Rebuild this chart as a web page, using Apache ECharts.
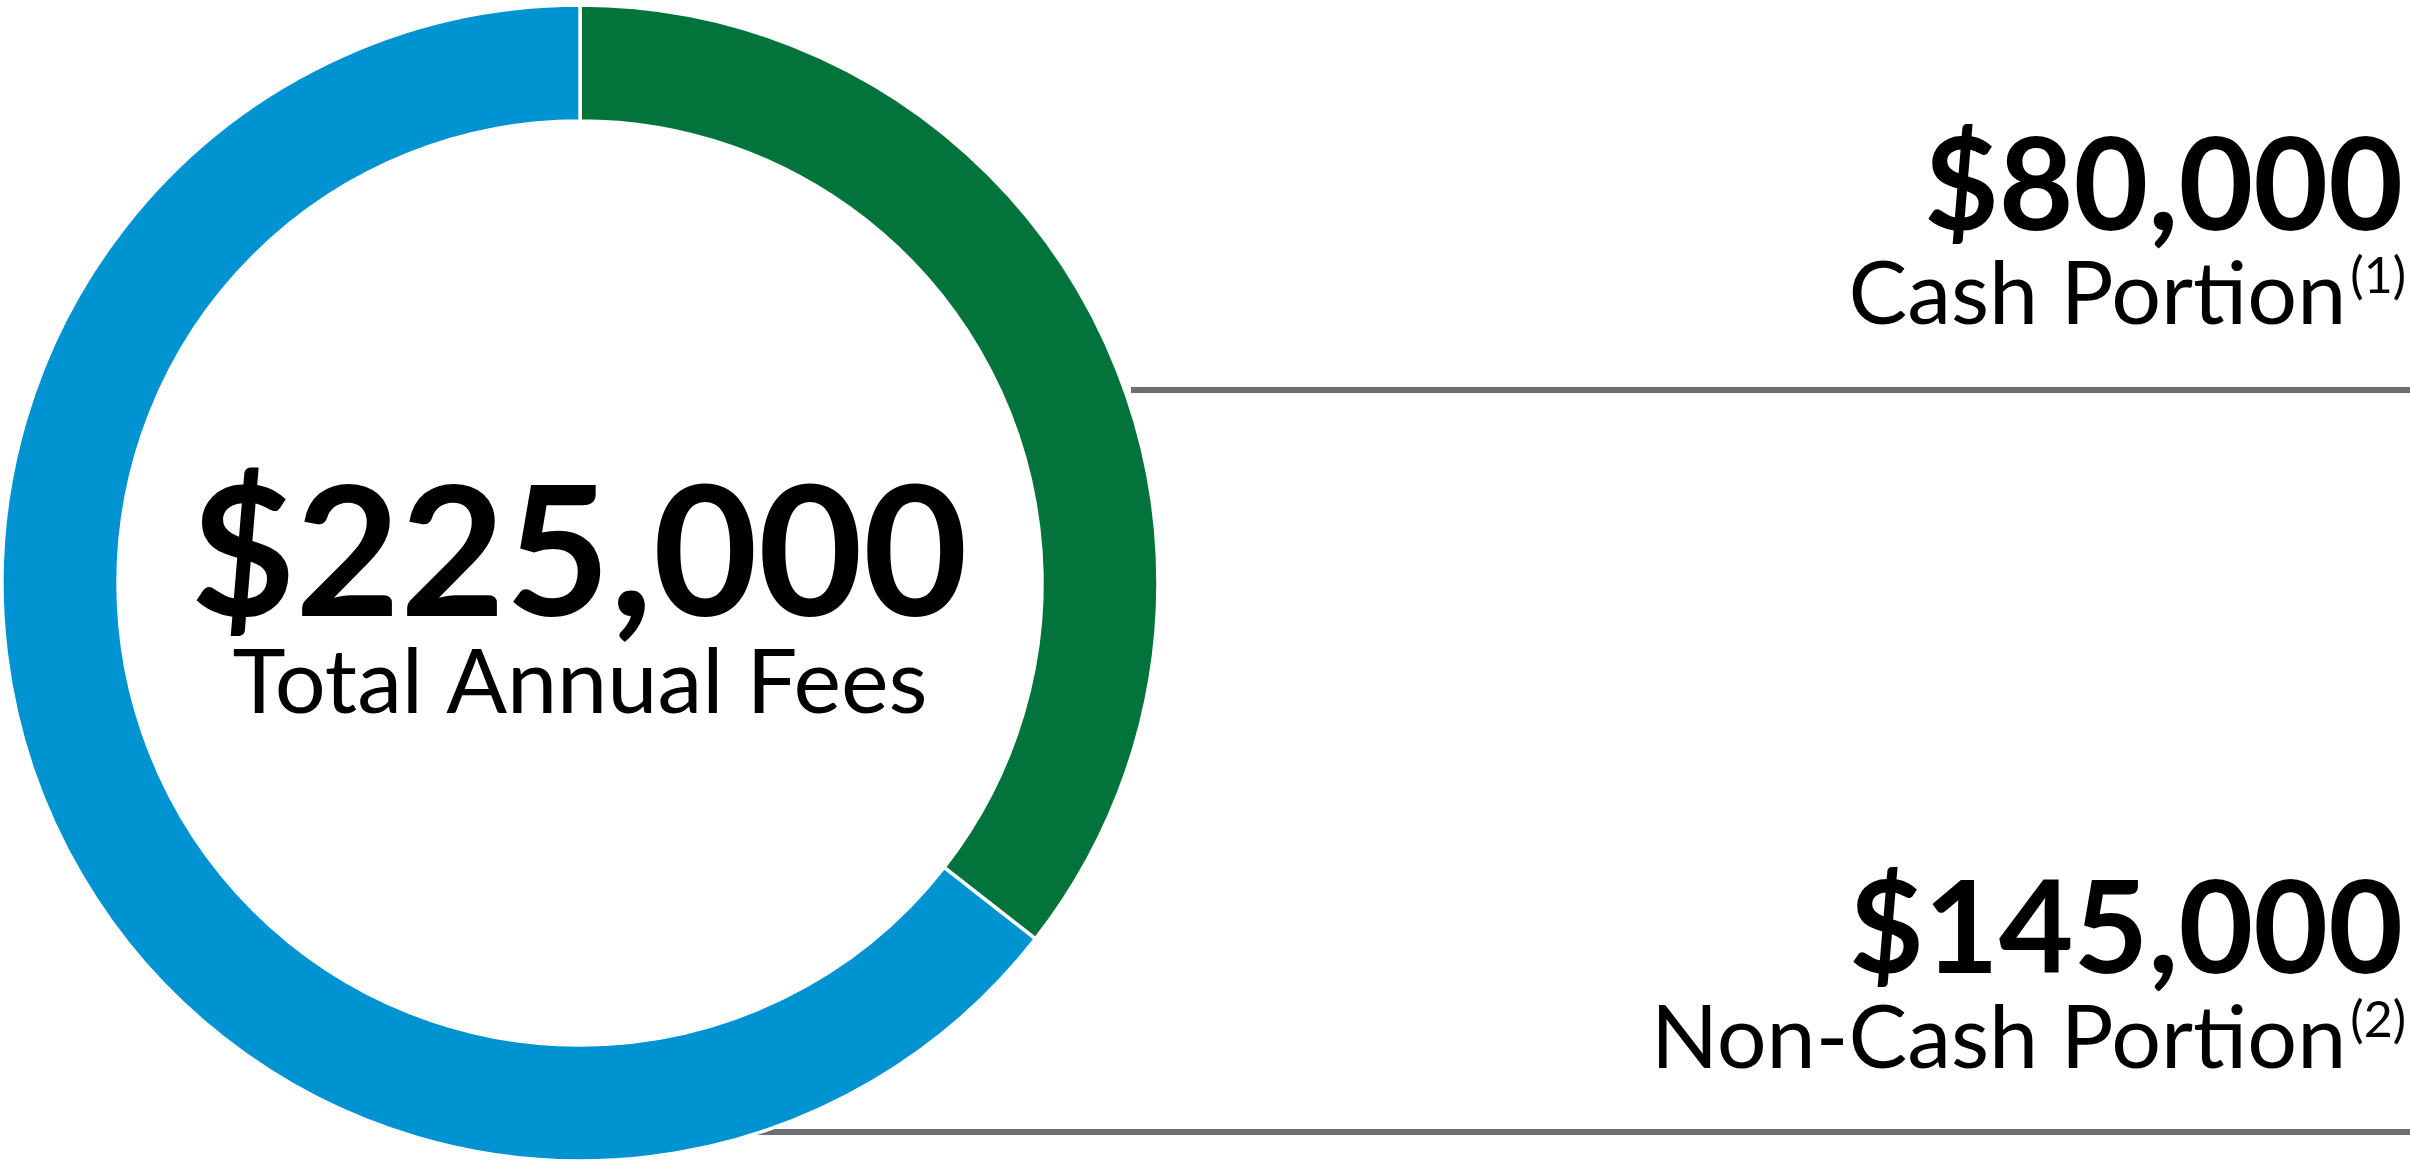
<!DOCTYPE html>
<html>
<head>
<meta charset="utf-8">
<title>Total Annual Fees</title>
<script src="https://cdn.jsdelivr.net/npm/echarts@6/dist/echarts.min.js"></script>
<style>
  html, body { margin: 0; padding: 0; background: #fff; }
  #chart { width: 2410px; height: 1175px; }
</style>
</head>
<body>
<div id="chart"></div>
<script>
// data
const categories = ['Cash Portion', 'Non-Cash Portion'];
const values = [80000, 145000];
const footnotes = ['(1)', '(2)'];
const totalLabel = 'Total Annual Fees';

// colours
const sliceColors = ['#02733a', '#0093d1'];
const ruleColor = '#6d6e71';
const fontFamily = 'Lato, "Noto Sans", sans-serif';

const money = v => '$' + v.toLocaleString('en-US');
const total = values.reduce((a, b) => a + b, 0);

const chart = echarts.init(document.getElementById('chart'));

// right-hand labels, one block per slice
const labelBlocks = [
  { valueY: 188, nameY: 296, ruleY: 390, ruleX: 1131 },
  { valueY: 931, nameY: 1040, ruleY: 1132, ruleX: 750 }
];

const graphics = [];
categories.forEach((name, i) => {
  const b = labelBlocks[i];
  // grey rule under each block (sits behind the ring)
  graphics.push({
    type: 'rect',
    z: 0,
    shape: { x: b.ruleX, y: b.ruleY - 3, width: 2410 - b.ruleX, height: 6 },
    style: { fill: ruleColor }
  });
  graphics.push({
    type: 'text',
    z: 10,
    x: 2403,
    y: b.valueY,
    style: {
      text: money(values[i]),
      font: 'bold 129px ' + fontFamily,
      fill: '#000',
      align: 'right',
      verticalAlign: 'middle'
    }
  });
  graphics.push({
    type: 'text',
    z: 10,
    x: 2406,
    y: b.nameY,
    style: {
      text: '{main|' + name + '}{sup|' + footnotes[i] + '}',
      align: 'right',
      verticalAlign: 'middle',
      fill: '#000',
      rich: {
        main: { fontFamily: 'Lato', fontSize: 88, fontWeight: 400, fill: '#000', verticalAlign: 'bottom' },
        sup: { fontFamily: 'Lato', fontSize: 50, fontWeight: 400, fill: '#000', verticalAlign: 'top', padding: [0, 0, 0, 4] }
      }
    }
  });
});

// centre text
graphics.push({
  type: 'text',
  z: 10,
  x: 579,
  y: 558,
  style: {
    text: money(total),
    font: 'bold 181px ' + fontFamily,
    fill: '#000',
    align: 'center',
    verticalAlign: 'middle'
  }
});
graphics.push({
  type: 'text',
  z: 10,
  x: 580,
  y: 684,
  style: {
    text: totalLabel,
    font: '400 90px ' + fontFamily,
    fill: '#000',
    align: 'center',
    verticalAlign: 'middle'
  }
});

const option = {
  backgroundColor: '#fff',
  animation: false,
  color: sliceColors,
  graphic: graphics,
  series: [
    {
      type: 'pie',
      z: 5,
      center: [580, 583],
      radius: [462, 578],
      startAngle: 90,
      clockwise: true,
      silent: true,
      label: { show: false },
      labelLine: { show: false },
      emphasis: { scale: false },
      itemStyle: { borderColor: '#fff', borderWidth: 3.5 },
      data: categories.map((name, i) => ({ name, value: values[i] }))
    }
  ]
};

chart.setOption(option);
</script>
</body>
</html>
